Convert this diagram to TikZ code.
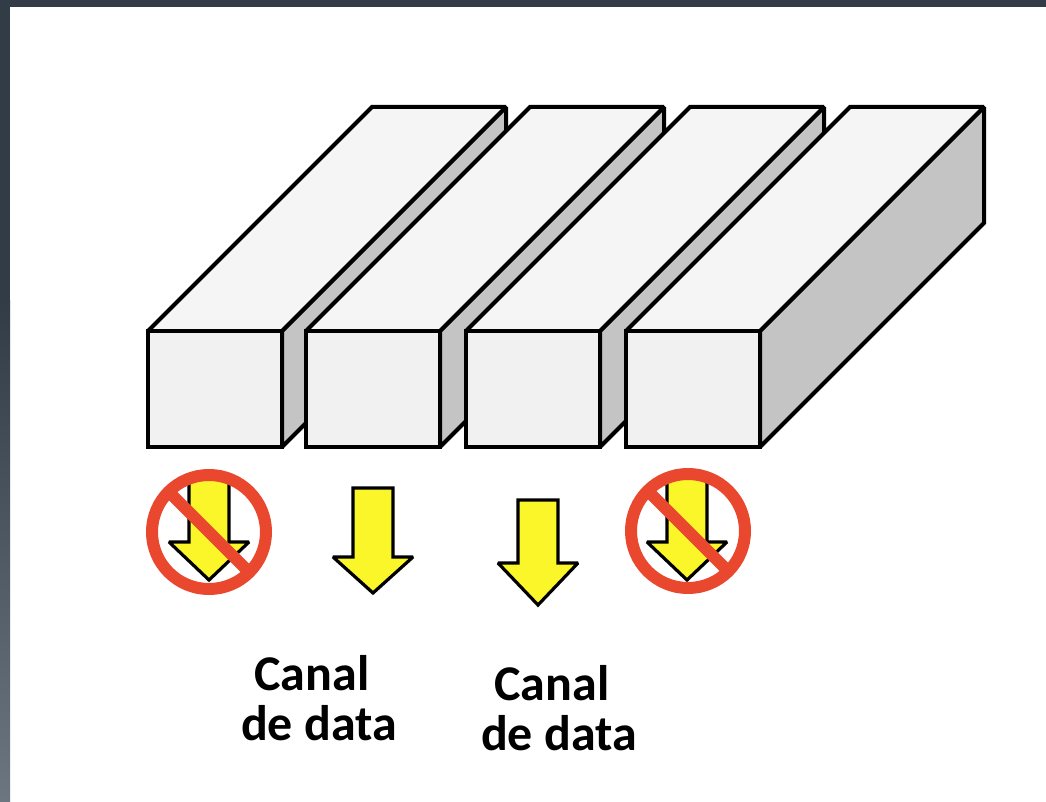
\documentclass[tikz,border=0pt]{standalone}
\usepackage{fontspec}
\setmainfont{Carlito}
\begin{document}
\definecolor{frameDark}{RGB}{50,60,70}
\definecolor{frameLight}{RGB}{107,118,129}
\definecolor{frontGray}{RGB}{241,241,241}
\definecolor{topGray}{RGB}{245,245,245}
\definecolor{sideGray}{RGB}{196,196,196}
\definecolor{arrowYellow}{RGB}{250,246,42}
\definecolor{banRed}{RGB}{233,72,46}
\begin{tikzpicture}[x=1pt,y=-1pt,
  edge/.style={draw=black,line width=4pt,line join=miter,miter limit=1.6},
  blockarrow/.style={draw=black,fill=arrowYellow,line width=3.2pt,line join=miter,miter limit=2},
  banring/.style={draw=banRed,line width=12pt},
  chanlabel/.style={inner sep=0pt,anchor=base,font=\bfseries\fontsize{50}{50}\selectfont}]
\useasboundingbox (0,0) rectangle (1046,802);
% window frame
\fill[white] (0,0) rectangle (1046,802);
\fill[frameDark] (0,0) rectangle (1046,7);
\fill[frameDark] (0,0) rectangle (10,300);
\shade[top color=frameDark,bottom color=frameLight] (0,300) rectangle (10,802);

% one bar: side face, top face, front face (depth offset 224,-224)
\newcommand\drawbar[1]{%
  \filldraw[edge,fill=sideGray] (#1+134,331) -- (#1+358,107) -- (#1+358,223) -- (#1+134,447) -- cycle;
  \filldraw[edge,fill=topGray] (#1,331) -- (#1+224,107) -- (#1+358,107) -- (#1+134,331) -- cycle;
  \filldraw[edge,fill=frontGray] (#1,331) rectangle (#1+134,447);
}
\drawbar{148}
\drawbar{306}
\drawbar{466}
\drawbar{626}

% downward block arrow: centre x, top y, head base y, tip y
\newcommand\blockdown[4]{%
  \filldraw[blockarrow] (#1-20,#2) -- (#1+20,#2) -- (#1+20,#3) -- (#1+40,#3)
    -- (#1,#4) -- (#1-40,#3) -- (#1-20,#3) -- cycle;
}
\blockdown{209}{478}{542}{580}
\blockdown{373}{488}{557}{593}
\blockdown{538}{500}{563}{605}
\blockdown{687}{478}{542}{580}

% prohibition signs over the first and last arrows
\newcommand\bansign[2]{%
  \draw[banring] (#1,#2) circle (57);
  \draw[banring] (#1,#2) +(-40.3,-40.3) -- +(40.3,40.3);
}
\bansign{209}{532}
\bansign{688}{531}

% channel labels
\node[chanlabel] (canalA) at (312,690) {Canal};
\node[chanlabel] (dataA) at (319,740) {de data};
\node[chanlabel] (canalB) at (552,700) {Canal};
\node[chanlabel] (dataB) at (559,750) {de data};
\end{tikzpicture}
\end{document}
